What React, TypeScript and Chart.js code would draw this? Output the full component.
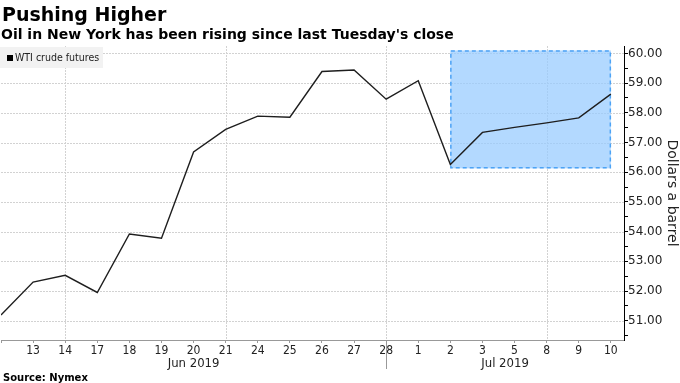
import { useEffect, useRef } from 'react';
import { Chart, registerables } from 'chart.js';

Chart.register(...registerables);

// ---- Data ----
const dayLabels = ['12', '13', '14', '17', '18', '19', '20', '21', '24', '25', '26', '27', '28', '1', '2', '3', '5', '8', '9', '10'];
const wtiValues = [51.19, 52.3, 52.53, 51.95, 53.92, 53.78, 56.68, 57.44, 57.89, 57.85, 59.39, 59.44, 58.46, 59.08, 56.26, 57.34, 57.51, 57.66, 57.83, 58.63];
const monthLabels = ['Jun 2019', 'Jul 2019'];
const monthBoundaryIndex = 12;
const verticalGridIndices = [2, 7, 12, 17];
const highlightRange = [14, 19];
const highlightValues = [56.13, 60.1];
const yMin = 50.35;
const yMax = 60.25;
const xMax = 19.41;

const TITLE = 'Pushing Higher';
const SUBTITLE = "Oil in New York has been rising since last Tuesday's close";
const SERIES_NAME = 'WTI crude futures';
const SOURCE = 'Source: Nymex';
const Y_TITLE = 'Dollars a barrel';

const COND = '"DejaVu Sans Condensed", "DejaVu Sans", sans-serif';
const SANS = '"DejaVu Sans", sans-serif';
const GRID = '#d2d2d2';
const GRID_DASH = [2, 1];

const isWhole = (n: number) => Math.abs(n - Math.round(n)) < 1e-6;

const decorPlugin = {
  id: 'decor',
  beforeDatasetsDraw(chart: any) {
    const { ctx } = chart;
    const x = chart.scales.x;
    const y = chart.scales.y;
    const area = chart.chartArea;
    ctx.save();
    ctx.strokeStyle = GRID;
    ctx.lineWidth = 1;
    ctx.setLineDash(GRID_DASH);
    // horizontal gridlines at whole-dollar ticks
    for (const t of y.ticks) {
      if (!isWhole(t.value)) continue;
      const py = Math.round(y.getPixelForValue(t.value)) + 0.5;
      ctx.beginPath();
      ctx.moveTo(area.left, py);
      ctx.lineTo(area.right, py);
      ctx.stroke();
    }
    // vertical gridlines
    for (const gi of verticalGridIndices) {
      const px = Math.round(x.getPixelForValue(gi)) + 0.5;
      ctx.beginPath();
      ctx.moveTo(px, area.top);
      ctx.lineTo(px, area.bottom);
      ctx.stroke();
    }
    // highlight box
    const l = x.getPixelForValue(highlightRange[0]);
    const r = x.getPixelForValue(highlightRange[1]);
    const t = y.getPixelForValue(highlightValues[1]);
    const b = y.getPixelForValue(highlightValues[0]);
    ctx.setLineDash([]);
    ctx.fillStyle = 'rgba(150, 203, 255, 0.72)';
    ctx.fillRect(l, t, r - l, b - t);
    ctx.setLineDash([4, 3]);
    ctx.strokeStyle = '#4da3f5';
    ctx.lineWidth = 1.5;
    ctx.strokeRect(l + 0.5, t + 0.5, r - l - 1, b - t - 1);
    ctx.restore();
  },
  afterDraw(chart: any) {
    const { ctx } = chart;
    const x = chart.scales.x;
    const area = chart.chartArea;
    ctx.save();
    // Titles
    ctx.fillStyle = '#000';
    ctx.textAlign = 'left';
    ctx.textBaseline = 'alphabetic';
    ctx.font = 'bold 19px ' + SANS;
    ctx.fillText(TITLE, 2, 21);
    ctx.font = 'bold 14px ' + SANS;
    ctx.fillText(SUBTITLE, 1, 39);

    // Legend
    ctx.fillStyle = '#f2f2f2';
    ctx.fillRect(0, 47, 103, 21);
    ctx.fillStyle = '#000';
    ctx.fillRect(7, 55, 6, 6);
    ctx.fillStyle = '#222';
    ctx.font = '10.5px ' + COND;
    ctx.textBaseline = 'middle';
    ctx.fillText(SERIES_NAME, 15, 58);

    // Month labels
    const sep = x.getPixelForValue(monthBoundaryIndex);
    const bounds = [area.left, sep, area.right];
    ctx.font = '13px ' + COND;
    ctx.textAlign = 'center';
    ctx.textBaseline = 'alphabetic';
    ctx.fillStyle = '#222';
    for (let i = 0; i < monthLabels.length; i++) {
      ctx.fillText(monthLabels[i], (bounds[i] + bounds[i + 1]) / 2, 366.5);
    }
    ctx.strokeStyle = '#999';
    ctx.lineWidth = 1;
    ctx.beginPath();
    ctx.moveTo(Math.round(sep) + 0.5, area.bottom + 1);
    ctx.lineTo(Math.round(sep) + 0.5, 369);
    ctx.stroke();

    // Source
    ctx.fillStyle = '#000';
    ctx.textAlign = 'left';
    ctx.font = 'bold 10px ' + SANS;
    ctx.fillText(SOURCE, 3, 381);
    ctx.restore();
  },
};

export default function App() {
  const ref = useRef<HTMLCanvasElement | null>(null);

  useEffect(() => {
    document.body.style.margin = '0';
    const canvas = ref.current;
    if (!canvas) return;
    const chart = new Chart(canvas, {
      type: 'line',
      data: {
        datasets: [
          {
            label: SERIES_NAME,
            data: wtiValues.map((v, i) => ({ x: i, y: v })),
            borderColor: '#1e1e1e',
            borderWidth: 1.4,
            pointRadius: 0,
            tension: 0,
            fill: false,
          },
        ],
      },
      options: {
        animation: false,
        responsive: false,
        devicePixelRatio: 1,
        layout: { padding: { top: 46, left: 0, right: 0, bottom: 0 } },
        plugins: {
          legend: { display: false },
          title: { display: false },
          tooltip: { enabled: false },
        },
        scales: {
          x: {
            type: 'linear',
            min: 0,
            max: xMax,
            afterFit: (s: any) => {
              s.height = 43;
            },
            border: { display: true, color: '#999', width: 1 },
            grid: {
              drawOnChartArea: false,
              drawTicks: true,
              tickLength: 3,
              tickColor: '#999',
            },
            ticks: {
              stepSize: 1,
              maxTicksLimit: 100,
              includeBounds: false,
              autoSkip: false,
              maxRotation: 0,
              padding: 1,
              color: '#222',
              font: { family: COND, size: 12 },
              callback: (v: any) => {
                const i = Math.round(Number(v));
                if (i === 0) return '';
                return dayLabels[i] ?? '';
              },
            },
          },
          y: {
            type: 'linear',
            position: 'right',
            min: yMin,
            max: yMax,
            afterFit: (s: any) => {
              s.width = 56;
            },
            border: { display: true, color: '#000', width: 1 },
            grid: {
              drawOnChartArea: false,
              drawTicks: true,
              tickLength: 4,
              tickColor: '#000',
            },
            ticks: {
              stepSize: 0.5,
              maxTicksLimit: 100,
              includeBounds: false,
              autoSkip: false,
              padding: 0,
              color: '#222',
              font: { family: SANS, size: 12 },
              callback: (v: any) => {
                const n = Number(v);
                return isWhole(n) ? n.toFixed(2) : '';
              },
            },
            title: {
              display: true,
              text: Y_TITLE,
              color: '#222',
              font: { family: SANS, size: 14 },
              padding: 0,
            },
          },
        },
      },
      plugins: [decorPlugin],
    } as any);
    return () => chart.destroy();
  }, []);

  return (
    <canvas
      ref={ref}
      width={680}
      height={383}
      style={{ display: 'block', width: 680, height: 383 }}
    />
  );
}
